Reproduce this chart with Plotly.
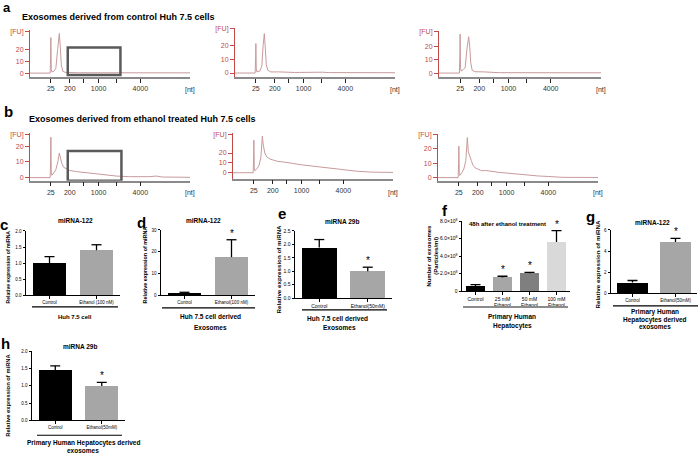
import plotly.graph_objects as go

W, H = 700, 456
FONT = "Liberation Sans, Arial, sans-serif"

# ---------------- Electropherogram data ----------------
# migration position units; ladder marker positions labelled in nt
LADDER_POS = [21, 40, 69, 111]
LADDER_TEXT = ["25", "200", "1000", "4000"]
LADDER_MINOR = [54, 87]

A1_T = [0, 20.3, 20.7, 21, 21.4, 22, 24, 26, 27.8, 29.5, 30.5, 31.5, 33, 36, 50, 161]
A1_FU = [0, 0, 12, 30, 3, 1, 1.5, 4, 20, 33.5, 22, 7, 1.5, 0.5, 0.3, 0.2]

A2_T = [0, 20.3, 20.7, 21, 21.4, 22, 25, 27, 28.3, 29.5, 30.5, 31.5, 33, 36, 45, 52, 60, 88, 95, 161]
A2_FU = [0, 0, 10, 21.4, 3, 0.8, 1.5, 5, 20, 28.6, 18, 6, 2, 0.8, 0.8, 0.6, 0.4, 0.6, 0.3, 0.2]

A3_T = [0, 20.3, 20.7, 21, 21.4, 22, 24, 26, 27.8, 29.5, 30.5, 31.5, 33, 36, 44, 54, 60, 161]
A3_FU = [0, 0, 12, 28.8, 4, 1.5, 2.5, 4, 18, 26.9, 20, 8, 2, 1, 0.9, 0.8, 0.3, 0.2]

B1_T = [0, 20.3, 20.7, 21, 21.4, 22, 24, 26, 28, 29.5, 30.5, 32, 34, 37, 40, 47, 55, 67,
        78, 87, 100, 111, 120, 127, 133, 161]
B1_FU = [0, 0, 10, 25.6, 3, 1.5, 3, 5, 10, 15.6, 13, 9, 6.5, 5.3, 4.5, 3.8, 3.2, 2.5,
         1.6, 1.0, 0.6, 0.5, 0.6, 1.0, 0.4, 0.2]

B2_T = [0, 20.3, 20.7, 21, 21.4, 22, 24, 26, 28, 29.5, 30.5, 32, 34, 37, 40, 45, 50, 55,
        60, 69, 78, 87, 100, 111, 125, 140, 161]
B2_FU = [0, 0, 12, 33, 5, 2, 4, 7, 15, 37, 28, 20, 16, 14, 13, 11.5, 11, 10.5,
         9.5, 8, 7, 6, 4, 2.8, 1.5, 0.6, 0.3]

B3_T = [0, 20.3, 20.7, 21, 21.4, 22, 24, 26, 28, 29.5, 30.5, 32, 33.5, 35, 37, 40, 44, 48,
        52, 55, 62, 69, 78, 87, 100, 111, 118, 125, 161]
B3_FU = [0, 0, 10, 22, 3, 1.5, 3.5, 6, 12, 28, 18, 14, 12, 9, 7, 6, 4.8, 5,
         4.5, 4, 3.6, 3.2, 2.5, 1.8, 1.2, 0.8, 0.5, 0.2, 0.1]

# highlighted regions (x0, x1, y0, y1) in axis units
A1_BOX = [38, 91, -1.7, 21.7]
B1_BOX = [38, 92, -1.9, 16.9]

# ---------------- Bar chart data ----------------
C_CATS = ["Control", "Ethanol (100 nM)"]
C_VALS = [1.0, 1.4]
C_ERRS = [0.2, 0.17]
C_STAR = [False, False]

D_CATS = ["Control", "Ethanol(100 nM)"]
D_VALS = [1.0, 17.5]
D_ERRS = [0.3, 8.0]
D_STAR = [False, True]

E_CATS = ["Control", "Ethanol(50mM)"]
E_VALS = [1.88, 1.0]
E_ERRS = [0.3, 0.15]
E_STAR = [False, True]

F_CATS = ["Control", "25 mM<br>Ethanol", "50 mM<br>Ethanol", "100 mM<br>Ethanol"]
F_VALS = [0.56e8, 1.56e8, 2.04e8, 5.6e8]
F_ERRS = [0.18e8, 0.14e8, 0.11e8, 1.3e8]
F_STAR = [False, True, True, True]

G_CATS = ["Control", "Ethanol(50mM)"]
G_VALS = [1.0, 4.85]
G_ERRS = [0.2, 0.35]
G_STAR = [False, True]

H_CATS = ["Control", "Ethanol(50mM)"]
H_VALS = [1.46, 1.0]
H_ERRS = [0.12, 0.1]
H_STAR = [False, True]

TICKS_2 = [0, 0.5, 1.0, 1.5, 2.0]
TICKS_2_TXT = ["0.0", "0.5", "1.0", "1.5", "2.0"]
TICKS_25 = [0, 0.5, 1.0, 1.5, 2.0, 2.5]
TICKS_25_TXT = ["0.0", "0.5", "1.0", "1.5", "2.0", "2.5"]
TICKS_30 = [0, 10, 20, 30]
TICKS_F = [0, 2e8, 4e8, 6e8, 8e8]
TICKS_F_TXT = ["0", "2.0×10<sup>8</sup>", "4.0×10<sup>8</sup>", "6.0×10<sup>8</sup>", "8.0×10<sup>8</sup>"]
TICKS_6 = [0, 2, 4, 6]

# ---------------- helpers ----------------
fig = go.Figure()
layout = {}
annotations = []
shapes = []


def xd(x0, x1):
    return [x0 / W, x1 / W]


def yd(top, bot):
    return [1 - bot / H, 1 - top / H]


def py(y):
    return 1 - y / H


def pxx(x):
    return x / W


def ax_names(i):
    s = "" if i == 1 else str(i)
    return "x" + s, "y" + s, "xaxis" + s, "yaxis" + s


RED = "#bf4a46"
TRACE = "#c89a9a"


def text(t, x, y, size, bold=False, color="black", xanchor="center", angle=0):
    annotations.append(dict(text=("<b>%s</b>" % t) if bold else t, x=pxx(x), y=py(y),
                            xref="paper", yref="paper", showarrow=False, xanchor=xanchor,
                            yanchor="middle", textangle=angle,
                            font=dict(size=size, color=color, family=FONT)))


def electro(i, T, FU, xpx, ypx, yrange, fu_top, label_y, box=None):
    xr, yr, xk, yk = ax_names(i)
    fig.add_trace(go.Scatter(x=T, y=FU, mode="lines", line=dict(color=TRACE, width=1),
                             xaxis=xr, yaxis=yr, hoverinfo="skip", showlegend=False))
    layout[xk] = dict(domain=xd(*xpx), anchor=yr, range=[0, 161], showline=True,
                      linecolor="#8a8a8a", linewidth=1.5, ticks="outside", ticklen=4,
                      tickwidth=1, tickcolor="#222", tickvals=LADDER_POS, ticktext=LADDER_TEXT,
                      minor=dict(tickmode="array", tickvals=LADDER_MINOR, ticks="outside",
                                 ticklen=4, tickwidth=1, tickcolor="#222", showgrid=False),
                      tickfont=dict(size=7, color="#333", family=FONT), showgrid=False,
                      zeroline=False, fixedrange=True)
    layout[yk] = dict(domain=yd(*ypx), anchor=xr, range=yrange, showline=True,
                      linecolor=RED, linewidth=1, ticks="outside", ticklen=4, tickcolor=RED,
                      tickvals=[0, 10, 20, fu_top], ticktext=["0", "10", "20", "[FU]"],
                      tickfont=dict(size=7, color=RED, family=FONT), showgrid=False,
                      zeroline=False, fixedrange=True)
    annotations.append(dict(text="[nt]", x=161, xref=xr, y=py(label_y), yref="paper",
                            showarrow=False, xanchor="center", yanchor="middle",
                            font=dict(size=7, color="#333", family=FONT)))
    if box:
        shapes.append(dict(type="rect", xref=xr, yref=yr, x0=box[0], x1=box[1],
                           y0=box[2], y1=box[3], line=dict(color="#5a5a5a", width=2.5)))


def barpanel(i, cats, vals, errs, colors, stars, xpx, ypx, yrange, ytv, ytt,
             tick_size=4.5, cap_px=5):
    xr, yr, xk, yk = ax_names(i)
    n = len(cats)
    xs = list(range(n))
    fig.add_trace(go.Bar(x=xs, y=vals, width=0.72,
                         marker=dict(color=colors, line=dict(width=0)),
                         xaxis=xr, yaxis=yr, hoverinfo="skip", showlegend=False))
    c = cap_px / ((xpx[1] - xpx[0]) / n)
    ex, ey = [], []
    for k, (v, e) in enumerate(zip(vals, errs)):
        ex += [k, k, None, k - c, k + c, None]
        ey += [v, v + e, None, v + e, v + e, None]
    fig.add_trace(go.Scatter(x=ex, y=ey, mode="lines", line=dict(color="black", width=1.3),
                             xaxis=xr, yaxis=yr, hoverinfo="skip", showlegend=False))
    for k, s in enumerate(stars):
        if s:
            annotations.append(dict(text="*", x=k, y=vals[k] + errs[k], xref=xr, yref=yr,
                                    showarrow=False, yanchor="bottom", yshift=-1,
                                    font=dict(size=10, color="black", family=FONT)))
    layout[xk] = dict(domain=xd(*xpx), anchor=yr, range=[-0.5, n - 0.5], showline=True,
                      linecolor="black", linewidth=1, ticks="outside", ticklen=2.5,
                      tickcolor="black", tickvals=xs, ticktext=cats,
                      tickfont=dict(size=tick_size, color="black", family=FONT),
                      showgrid=False, zeroline=False, fixedrange=True)
    layout[yk] = dict(domain=yd(*ypx), anchor=xr, range=yrange, showline=True,
                      linecolor="black", linewidth=1, ticks="outside", ticklen=2.5,
                      tickcolor="black", tickvals=ytv, ticktext=ytt,
                      tickfont=dict(size=tick_size, color="black", family=FONT),
                      showgrid=False, zeroline=False, fixedrange=True)


def hline(x0, x1, y, color="black", width=1.2):
    shapes.append(dict(type="line", xref="paper", yref="paper", x0=pxx(x0), x1=pxx(x1),
                       y0=py(y), y1=py(y), line=dict(color=color, width=width)))


# ---------------- panels a / b ----------------
text("a", 7, 5, 13, bold=True)
text("Exosomes derived from control Huh 7.5 cells", 20, 14, 9, bold=True, xanchor="left")
electro(1, A1_T, A1_FU, (30, 190), (27, 75), [-3.3, 36.7], 35, 88, A1_BOX)
electro(2, A2_T, A2_FU, (235, 395), (25, 75), [-2.9, 32.9], 32, 88)
electro(3, A3_T, A3_FU, (439, 601), (28, 75), [-2.9, 31.4], 30.5, 88)

text("b", 8, 110, 15, bold=True)
text("Exosomes derived from ethanol treated Huh 7.5 cells", 27, 118, 9, bold=True,
     xanchor="left")
electro(4, B1_T, B1_FU, (30, 190), (132, 180), [-1.9, 28.1], 27.5, 193, B1_BOX)
electro(5, B2_T, B2_FU, (233, 393), (132, 178), [-6, 40], 39, 193)
electro(6, B3_T, B3_FU, (438, 598), (133, 180), [-2.1, 30.3], 30, 193)

# ---------------- panel c ----------------
GRAY = "#a6a6a6"
text("c", 4, 224, 15, bold=True)
text("miRNA-122", 75, 220, 6.5, bold=True)
barpanel(7, C_CATS, C_VALS, C_ERRS, ["black", GRAY], C_STAR, (26, 120), (231, 296),
         [0, 2.0], TICKS_2, TICKS_2_TXT)
text("Relative expression of miRNA", 8, 268, 5.1, bold=True, angle=-90)
hline(32, 118, 308)
text("Huh 7.5 cell", 75, 318, 6, bold=True)

# ---------------- panel d ----------------
text("d", 141, 222, 15, bold=True)
text("miRNA-122", 203, 220, 6.5, bold=True)
barpanel(8, D_CATS, D_VALS, D_ERRS, ["black", GRAY], D_STAR, (161, 255), (230, 296),
         [0, 30], TICKS_30, [str(v) for v in TICKS_30])
text("Relative expression of miRNA", 144, 266, 5.4, bold=True, angle=-90)
hline(162, 255, 309)
text("Huh 7.5 cell derived", 210, 318, 6.5, bold=True)
text("Exosomes", 210, 329, 6.5, bold=True)

# ---------------- panel e ----------------
text("e", 282, 213, 15, bold=True)
text("miRNA 29b", 342, 221, 6.5, bold=True)
barpanel(9, E_CATS, E_VALS, E_ERRS, ["black", GRAY], E_STAR, (295, 392), (231, 299),
         [0, 2.5], TICKS_25, TICKS_25_TXT, tick_size=5)
text("Relative expression of miRNA", 278, 270, 6.2, bold=True, angle=-90)
hline(302, 387, 311)
text("Huh 7.5 cell derived", 337, 320, 6.5, bold=True)
text("Exosomes", 339, 329, 6.5, bold=True)

# ---------------- panel f ----------------
text("f", 445, 210, 15, bold=True)
barpanel(10, F_CATS, F_VALS, F_ERRS, ["black", GRAY, "#7f7f7f", "#d9d9d9"], F_STAR,
         (462, 570), (221, 292), [0, 8e8], TICKS_F, TICKS_F_TXT, tick_size=5, cap_px=5)
text("48h after ethanol treatment", 467, 224, 6, bold=True, xanchor="left")
text("Number of exosomes", 429, 256, 6, bold=True, angle=-90)
text("(Particles/ml)", 436, 256, 6, bold=True, angle=-90)
hline(463, 568, 308, color="#8c8c8c", width=2)
text("Primary Human", 512, 318, 6.5, bold=True)
text("Hepatocytes", 512, 327, 6.5, bold=True)

# ---------------- panel g ----------------
text("g", 590, 216, 15, bold=True)
text("miRNA-122", 652, 222, 6.5, bold=True)
barpanel(11, G_CATS, G_VALS, G_ERRS, ["black", GRAY], G_STAR, (611, 697), (230, 294),
         [0, 6], TICKS_6, [str(v) for v in TICKS_6])
text("Relative expression of miRNA", 598, 265, 6.2, bold=True, angle=-90)
hline(613, 698, 307)
text("Primary Human", 655, 313, 6.5, bold=True)
text("Hepatocytes derived", 655, 321, 6.5, bold=True)
text("exosomes", 655, 328, 6.5, bold=True)

# ---------------- panel h ----------------
text("h", 5, 345, 15, bold=True)
text("miRNA 29b", 80, 348, 6.5, bold=True)
barpanel(12, H_CATS, H_VALS, H_ERRS, ["black", GRAY], H_STAR, (32, 125), (353, 423),
         [0, 2.0], TICKS_2, TICKS_2_TXT)
text("Relative expression of miRNA", 8, 398, 5.8, bold=True, angle=-90)
hline(37, 122, 438)
text("Primary Human Hepatocytes derived", 83, 446, 6.5, bold=True)
text("exosomes", 83, 453, 6.5, bold=True)

layout.update(dict(width=W, height=H, margin=dict(l=0, r=0, t=0, b=0),
                   paper_bgcolor="white", plot_bgcolor="white", showlegend=False,
                   font=dict(family=FONT, color="black"), annotations=annotations,
                   shapes=shapes, bargap=0))
fig.update_layout(**layout)
fig.write_html("out.html", config={"displayModeBar": False},
               post_script="document.body.style.margin='0';document.body.style.padding='0';")
